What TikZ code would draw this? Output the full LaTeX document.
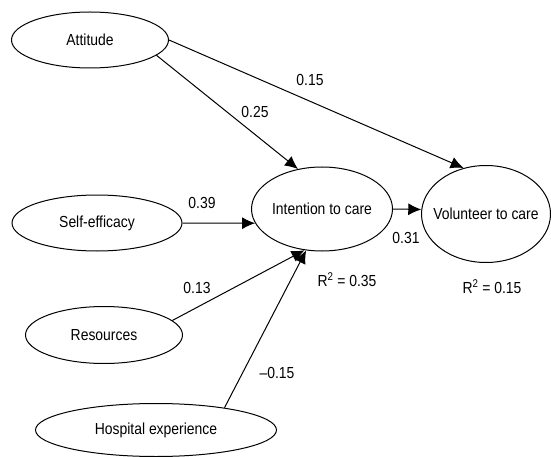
\documentclass[tikz,border=0pt]{standalone}
\usepackage{fontspec}
\setmainfont{Liberation Sans}[FakeStretch=0.87]
\usetikzlibrary{shapes.geometric,arrows.meta}

\begin{document}
\begin{tikzpicture}[x=1pt, y=-1pt,
  latent/.style={draw, ellipse, line width=1pt, inner xsep=-12pt, inner ysep=0pt},
  effect/.style={line width=1pt, -{Latex[length=13pt,width=12pt]}},
  every node/.style={font=\fontsize{16}{19}\selectfont}]
\useasboundingbox (0,0) rectangle (551,457);

% constructs
\node[latent, minimum width=157pt, minimum height=56pt] (att) at (90,40) {Attitude};
\node[latent, minimum width=170pt, minimum height=56pt] (self) at (97,223) {Self-efficacy};
\node[latent, minimum width=141pt, minimum height=84pt] (int) at (322,209) {Intention to care};
\node[latent, minimum width=129pt, minimum height=97pt] (vol) at (486,214) {Volunteer to care};
\node[latent, minimum width=157pt, minimum height=57pt] (res) at (104,335) {Resources};
\node[latent, minimum width=241pt, minimum height=53pt] (hosp) at (156,430) {Hospital experience};

% paths
\draw[effect] (att.-13) -- (int.121);
\draw[effect] (att.east) -- (vol.116);
\draw[effect] (self.east) -- (int.192);
\draw[effect] (int.east) -- (vol.176);
\draw[effect] (res.12) -- (int.247);
\draw[effect] (hosp.18) -- (int.249);

% coefficients
\node (c25) at (255,112) {0.25};
\node (c15) at (310,80) {0.15};
\node (c39) at (202,203) {0.39};
\node (c31) at (406,238) {0.31};
\node (c13) at (197,288) {0.13};
\node (cm15) at (277,373) {\textendash0.15};
\node (rint) at (347,280) {R\textsuperscript{2} = 0.35};
\node (rvol) at (492,287) {R\textsuperscript{2} = 0.15};

\end{tikzpicture}
\end{document}
